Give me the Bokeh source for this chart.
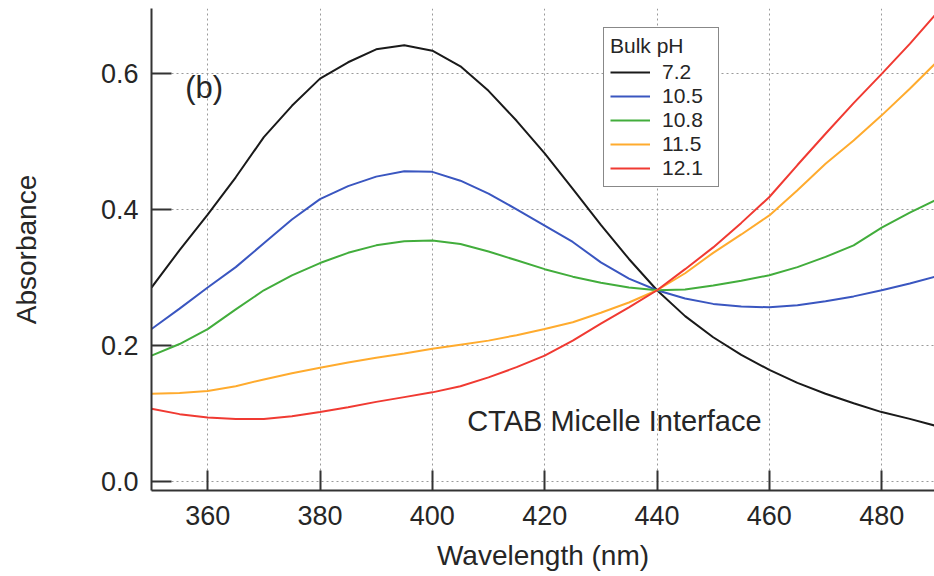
from bokeh.plotting import figure
from bokeh.models import Range1d, FixedTicker, Legend, LegendItem, Label, NumeralTickFormatter
from bokeh.embed import file_html
from bokeh.resources import INLINE

# ---- data ----
wavelength = [350, 355, 360, 365, 370, 375, 380, 385, 390, 395, 400, 405, 410, 415, 420,
              425, 430, 435, 440, 445, 450, 455, 460, 465, 470, 475, 480, 485, 490]

abs_ph72 = [0.285, 0.340, 0.392, 0.447, 0.506, 0.552, 0.592, 0.616, 0.635, 0.641, 0.633, 0.610,
            0.574, 0.530, 0.482, 0.430, 0.377, 0.327, 0.281, 0.243, 0.212, 0.186, 0.164, 0.145,
            0.129, 0.115, 0.102, 0.092, 0.081]
abs_ph105 = [0.224, 0.254, 0.285, 0.315, 0.350, 0.385, 0.415, 0.434, 0.448, 0.456, 0.455, 0.442,
             0.423, 0.400, 0.376, 0.352, 0.322, 0.298, 0.281, 0.269, 0.261, 0.257, 0.256, 0.259,
             0.265, 0.272, 0.281, 0.291, 0.302]
abs_ph108 = [0.185, 0.202, 0.224, 0.253, 0.281, 0.303, 0.321, 0.336, 0.347, 0.353, 0.354, 0.349,
             0.338, 0.325, 0.312, 0.301, 0.292, 0.285, 0.281, 0.282, 0.288, 0.295, 0.303, 0.315,
             0.330, 0.347, 0.373, 0.395, 0.415]
abs_ph115 = [0.129, 0.130, 0.133, 0.140, 0.150, 0.159, 0.167, 0.175, 0.182, 0.188, 0.195, 0.201,
             0.207, 0.215, 0.224, 0.234, 0.248, 0.263, 0.281, 0.306, 0.336, 0.363, 0.391, 0.428,
             0.467, 0.501, 0.538, 0.577, 0.618]
abs_ph121 = [0.107, 0.099, 0.094, 0.092, 0.092, 0.096, 0.102, 0.109, 0.117, 0.124, 0.131, 0.140,
             0.153, 0.168, 0.185, 0.207, 0.232, 0.256, 0.281, 0.312, 0.344, 0.380, 0.418, 0.465,
             0.511, 0.556, 0.599, 0.643, 0.690]

ph_labels = ["7.2", "10.5", "10.8", "11.5", "12.1"]
series = [abs_ph72, abs_ph105, abs_ph108, abs_ph115, abs_ph121]
colors = ["#1a1a1a", "#3a56c0", "#42ad3c", "#ffab2e", "#f03a32"]

x_ticks = [360, 380, 400, 420, 440, 460, 480]
y_ticks = [0.0, 0.2, 0.4, 0.6]

FONT = "Liberation Sans"
TXT = "#262626"

p = figure(width=934, height=576, output_backend="svg", toolbar_location=None,
           x_range=Range1d(350, 489.4), y_range=Range1d(-0.0132, 0.695),
           min_border_left=151, min_border_right=0, min_border_top=8, min_border_bottom=86)
p.outline_line_color = None
p.background_fill_color = "white"
p.border_fill_color = "white"

renderers = []
for ys, c in zip(series, colors):
    r = p.line(wavelength, ys, line_color=c, line_width=2)
    renderers.append(r)

# axes
p.xaxis.ticker = FixedTicker(ticks=x_ticks)
p.yaxis.ticker = FixedTicker(ticks=y_ticks)
p.yaxis.formatter = NumeralTickFormatter(format="0.0")
for ax in (p.xaxis[0], p.yaxis[0]):
    ax.axis_line_color = "#333333"
    ax.axis_line_width = 2
    ax.major_tick_line_color = "#333333"
    ax.major_tick_line_width = 2
    ax.major_tick_in = 20
    ax.major_tick_out = 0
    ax.minor_tick_line_color = None
    ax.major_label_text_font = FONT
    ax.major_label_text_font_size = "27px"
    ax.major_label_text_color = TXT
    ax.axis_label_text_font = FONT
    ax.axis_label_text_font_size = "28px"
    ax.axis_label_text_font_style = "normal"
    ax.axis_label_text_color = TXT
p.yaxis.major_label_standoff = 13
p.xaxis.major_label_standoff = 15
p.yaxis.axis_label = "Absorbance"
p.yaxis.axis_label_standoff = 56
p.xaxis.axis_label = "Wavelength (nm)"
p.xaxis.axis_label_standoff = 12

# grid
p.xgrid.ticker = FixedTicker(ticks=x_ticks)
p.ygrid.ticker = FixedTicker(ticks=y_ticks)
for g in (p.xgrid[0], p.ygrid[0]):
    g.grid_line_color = "#9a9a9a"
    g.grid_line_dash = "2 3"
    g.grid_line_width = 1

# annotations
p.add_layout(Label(x=356, y=0.579, text="(b)", text_font=FONT, text_font_size="31px",
                   text_color=TXT, text_align="left", text_baseline="middle"))
p.add_layout(Label(x=406.2, y=0.0896, text="CTAB Micelle Interface", text_font=FONT,
                   text_font_size="29px", text_color=TXT, text_align="left",
                   text_baseline="middle"))

# legend
items = [LegendItem(label=lab, renderers=[r]) for lab, r in zip(ph_labels, renderers)]
legend = Legend(items=items, location=(452, 303), title="Bulk pH")
legend.border_line_color = "#111111"
legend.border_line_width = 1.5
legend.background_fill_color = "white"
legend.background_fill_alpha = 1
legend.padding = 6
legend.spacing = 0
legend.margin = 0
legend.glyph_width = 40
legend.glyph_height = 20
legend.label_height = 20
legend.label_width = 50
legend.label_standoff = 12
legend.label_text_font = FONT
legend.label_text_font_size = "21px"
legend.label_text_color = TXT
legend.title_text_font = FONT
legend.title_text_font_size = "21px"
legend.title_text_font_style = "normal"
legend.title_text_color = TXT
legend.title_standoff = 2
p.add_layout(legend)

open("out.html", "w").write(file_html(p, INLINE))
